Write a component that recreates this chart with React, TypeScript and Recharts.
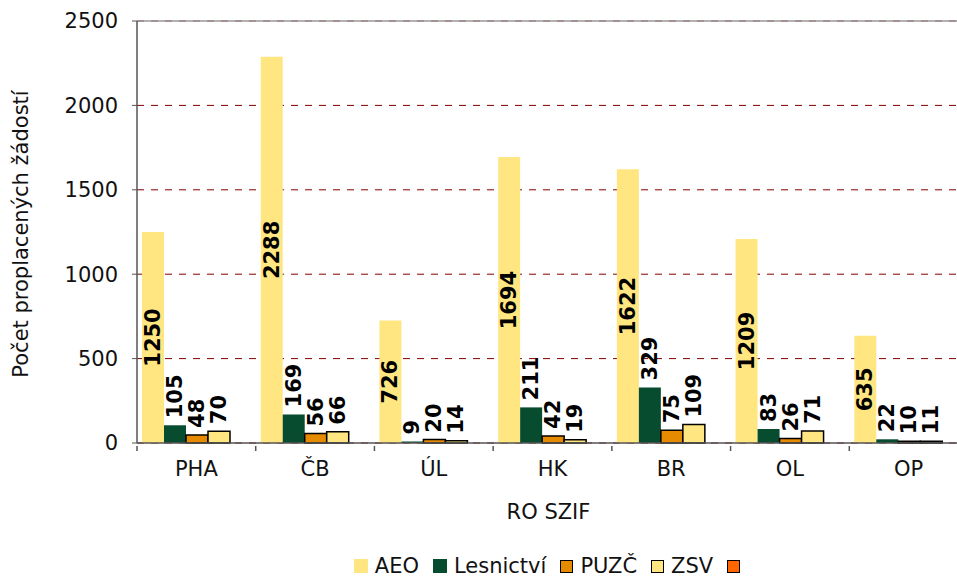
import React from 'react';
import { BarChart, Bar, XAxis, YAxis, CartesianGrid, Legend, ReferenceLine, LabelList } from 'recharts';

const categories = ['PHA', 'ČB', 'ÚL', 'HK', 'BR', 'OL', 'OP'];
const aeo = [1250, 2288, 726, 1694, 1622, 1209, 635];
const lesnictvi = [105, 169, 9, 211, 329, 83, 22];
const puzc = [48, 56, 20, 42, 75, 26, 10];
const zsv = [70, 66, 14, 19, 109, 71, 11];
const yTicks = [0, 500, 1000, 1500, 2000, 2500];

const seriesNames = ['AEO', 'Lesnictví', 'PUZČ', 'ZSV', ''];
const seriesColors = ['#FFE680', '#084C30', '#E68A00', '#FFE680', '#FF6600'];
const seriesBorder = [false, false, true, true, true];

const rows = categories.map((c, i) => ({
  cat: c,
  aeo: aeo[i],
  les: lesnictvi[i],
  puzc: puzc[i],
  zsv: zsv[i],
  extra: null as number | null,
}));

const FONT = '"DejaVu Sans", Verdana, sans-serif';
const FS = 21;

const InsideLabel = (props: any) => {
  const { x, y, width, height, value } = props;
  const cx = x + width / 2;
  const cy = y + height / 2;
  return (
    <text x={cx} y={cy} transform={`rotate(-90 ${cx} ${cy})`} textAnchor="middle" dominantBaseline="central"
      fontFamily={FONT} fontSize={FS} fontWeight="bold" fill="#000">{value}</text>
  );
};

const TopLabel = (props: any) => {
  const { x, y, width, value } = props;
  const cx = x + width / 2;
  const cy = y - 7;
  return (
    <text x={cx} y={cy} transform={`rotate(-90 ${cx} ${cy})`} textAnchor="start" dominantBaseline="central"
      fontFamily={FONT} fontSize={FS} fontWeight="bold" fill="#000">{value}</text>
  );
};

const CatTick = (props: any) => {
  const { x, y, payload, index } = props;
  const off = payload && payload.offset ? payload.offset : 59.3;
  const axisY = y - 5;
  return (
    <g>
      <line x1={x - off} x2={x - off} y1={axisY} y2={axisY + 5} stroke="#555" strokeWidth={1.5} />
      {index === categories.length - 1 && (
        <line x1={x + off} x2={x + off} y1={axisY} y2={axisY + 5} stroke="#555" strokeWidth={1.5} />
      )}
      <text x={x} y={axisY + 23} textAnchor="middle" dominantBaseline="central" fontFamily={FONT} fontSize={FS} fill="#111">
        {payload.value}
      </text>
    </g>
  );
};

const LegendContent = () => (
  <div style={{ display: 'flex', justifyContent: 'center', alignItems: 'center', height: 20, lineHeight: '20px', fontFamily: FONT, fontSize: 21, color: '#111' }}>
    {seriesNames.map((n, i) => (
      <div key={i} style={{ display: 'flex', alignItems: 'center', marginRight: i < seriesNames.length - 1 ? 14 : 0 }}>
        <span style={{
          display: 'inline-block', width: seriesBorder[i] ? 11 : 14, height: seriesBorder[i] ? 11 : 14,
          background: seriesColors[i], border: seriesBorder[i] ? '1.5px solid #000' : 'none', marginRight: n ? 7 : 0,
        }} />
        {n && <span>{n}</span>}
      </div>
    ))}
  </div>
);

export default function App() {
  return (
    <div style={{ position: 'absolute', left: 0, top: 0, width: 957, height: 577, overflow: 'hidden', background: '#fff' }}>
      <BarChart width={968} height={577} data={rows} margin={{ top: 21, right: 0, left: 0, bottom: 24 }}
        barCategoryGap={5} barGap={0}>
        <CartesianGrid vertical={false} stroke="#800000" strokeDasharray="7 7" />
        <ReferenceLine y={2500} stroke="#999" strokeWidth={1.5} />
        <XAxis dataKey="cat" height={90} axisLine={{ stroke: '#555', strokeWidth: 1.5 }} tickLine={false}
          tick={<CatTick />} interval={0}
          label={{
            content: (p: any) => {
              const vb = p.viewBox;
              return (
                <text x={vb.x + vb.width / 2 - 4} y={vb.y + 69} textAnchor="middle" dominantBaseline="central"
                  fontFamily={FONT} fontSize={FS} fill="#111">RO SZIF</text>
              );
            },
          }} />
        <YAxis width={137} domain={[0, 2500]} ticks={yTicks} interval={0} tickSize={5} tickMargin={14}
          axisLine={{ stroke: '#555', strokeWidth: 1.5 }} tickLine={{ stroke: '#555' }}
          tick={{ fontFamily: FONT, fontSize: FS, fill: '#111' }}
          label={{
            content: (p: any) => {
              const vb = p.viewBox;
              const cy = vb.y + vb.height / 2 + 2;
              return (
                <text x={21} y={cy} transform={`rotate(-90 21 ${cy})`} textAnchor="middle" dominantBaseline="central"
                  fontFamily={FONT} fontSize={FS} fill="#111">Počet proplacených žádostí</text>
              );
            },
          }} />
        <Legend verticalAlign="bottom" content={<LegendContent />}
          wrapperStyle={{ left: 137, width: 820, top: 556, bottom: 'auto' }} />
        <Bar dataKey="aeo" name="AEO" fill={seriesColors[0]} isAnimationActive={false}>
          <LabelList dataKey="aeo" content={<InsideLabel />} />
        </Bar>
        <Bar dataKey="les" name="Lesnictví" fill={seriesColors[1]} isAnimationActive={false}>
          <LabelList dataKey="les" content={<TopLabel />} />
        </Bar>
        <Bar dataKey="puzc" name="PUZČ" fill={seriesColors[2]} stroke="#000" strokeWidth={1.5} isAnimationActive={false}>
          <LabelList dataKey="puzc" content={<TopLabel />} />
        </Bar>
        <Bar dataKey="zsv" name="ZSV" fill={seriesColors[3]} stroke="#000" strokeWidth={1.5} isAnimationActive={false}>
          <LabelList dataKey="zsv" content={<TopLabel />} />
        </Bar>
        <Bar dataKey="extra" name=" " fill={seriesColors[4]} stroke="#000" strokeWidth={1.5} isAnimationActive={false} />
      </BarChart>
    </div>
  );
}
